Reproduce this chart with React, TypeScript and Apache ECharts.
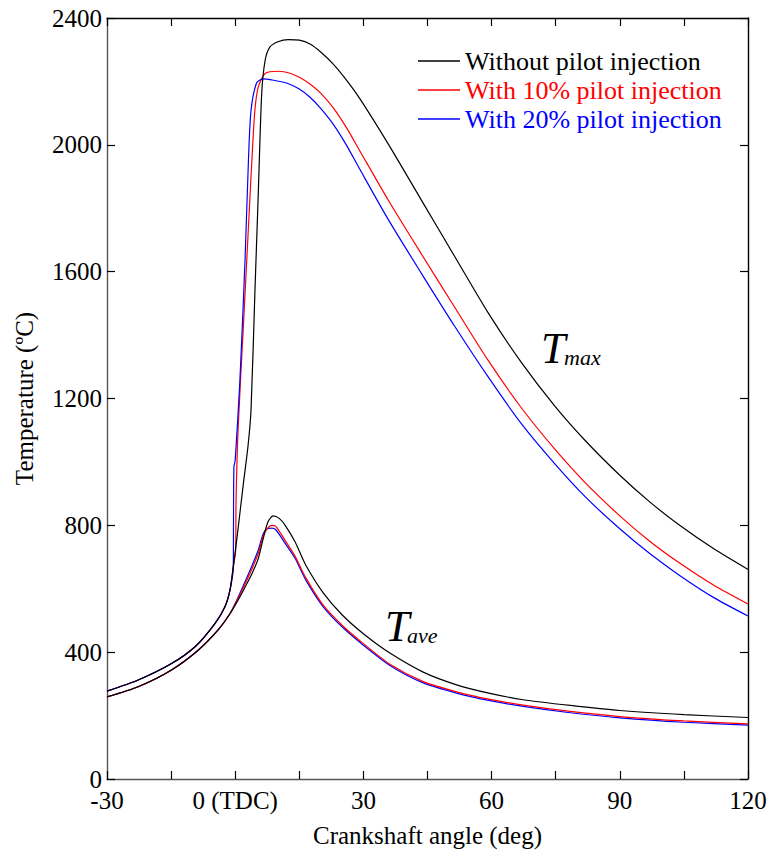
import React, { useEffect, useRef } from "react";
import * as echarts from "echarts";

// Crank angle ticks / labels
const xTickLabels: Record<number, string> = { [-30]: "-30", 0: "0 (TDC)", 30: "30", 60: "60", 90: "90", 120: "120" };

const seriesNames = ["Without pilot injection", "With 10% pilot injection", "With 20% pilot injection"];
const seriesColors = ["#000000", "#ff0000", "#0000ff"];

// T_max curves
const angleMaxWithout = [-30, -22.7, -14.9, -9.4, -4.7, -2.4, -1.2, -0.45, 0.5, 1.9, 3.0, 3.7, 4.6, 5.4, 6.2, 7.0, 8.1, 10, 12.4, 15, 17.5, 20, 23, 26, 29.2, 35.8, 43.6, 51.4, 59.2, 67, 74.8, 82, 90, 97, 104, 112, 120];
const tempMaxWithout = [277, 312, 364, 417, 491, 543, 597, 669, 770, 930, 1050, 1163, 1531, 1846, 2161, 2266, 2308, 2325, 2332, 2330, 2318, 2293, 2254, 2205, 2145, 2003, 1825, 1647, 1470, 1313, 1176, 1066, 958, 874, 800, 726, 661];

const angleMax10 = [-30, -22.7, -14.9, -9.4, -4.7, -2.4, -1.2, -0.45, 0.1, 0.2, 0.7, 1.9, 3.1, 3.9, 4.6, 5.4, 7.0, 10.1, 13, 15, 17.5, 20, 23, 26, 29.2, 35.8, 43.6, 51.4, 59.2, 67, 74.8, 82, 90, 97, 104, 112, 120];
const tempMax10 = [277, 312, 364, 417, 491, 543, 597, 669, 720, 880, 1110, 1425, 1741, 1951, 2108, 2182, 2225, 2232, 2225, 2213, 2192, 2163, 2116, 2055, 1980, 1826, 1655, 1487, 1320, 1170, 1040, 933, 830, 750, 681, 611, 552];

const angleMax20 = [-30, -22.7, -14.9, -9.4, -4.7, -2.4, -1.2, -0.45, -0.4, -0.3, 0, 1.1, 2.3, 3.1, 3.7, 5.0, 6.6, 8.5, 12, 15, 17.5, 20, 23, 26, 29.2, 35.8, 43.6, 51.4, 59.2, 67, 74.8, 82, 90, 97, 104, 112, 120];
const tempMax20 = [277, 312, 364, 417, 491, 543, 597, 669, 800, 984, 1005, 1257, 1636, 1951, 2108, 2195, 2208, 2205, 2195, 2176, 2150, 2115, 2064, 2000, 1922, 1765, 1594, 1427, 1268, 1120, 994, 889, 789, 711, 642, 572, 514];

// T_ave curves
const angleAveWithout = [-30, -22.7, -14.9, -8.6, -4.0, -1.2, 0.5, 2.3, 4.0, 5.4, 6.5, 7.7, 8.9, 10.3, 11.7, 14.0, 16.5, 20.6, 25, 30, 36.2, 44.0, 51.8, 59.6, 67.4, 78.4, 90, 105, 120];
const tempAveWithout = [259, 291, 344, 407, 470, 522, 560, 605, 650, 695, 755, 812, 830, 822, 800, 748, 675, 587, 518, 458, 397, 337, 297, 270, 250, 232, 216, 203, 194];

const angleAve10 = [-30, -22.7, -14.9, -8.6, -4.0, -1.2, 0.5, 2.3, 4.0, 5.4, 6.8, 8.5, 9.5, 11.7, 14.0, 16.5, 20.6, 25, 30, 36.2, 44.0, 51.8, 59.6, 67.4, 78.4, 90, 105, 120];
const tempAve10 = [259, 291, 344, 407, 470, 522, 565, 615, 665, 712, 775, 800, 797, 752, 703, 635, 548, 485, 427, 362, 307, 275, 251, 233, 213, 197, 183, 174];

const angleAve20 = [-30, -22.7, -14.9, -8.6, -4.0, -1.2, 0.5, 2.3, 4.0, 5.4, 6.6, 7.6, 8.5, 9.5, 11.7, 14.0, 16.5, 20.6, 25, 30, 36.2, 44.0, 51.8, 59.6, 67.4, 78.4, 90, 105, 120];
const tempAve20 = [259, 291, 344, 407, 470, 522, 568, 622, 675, 722, 775, 790, 791, 786, 743, 696, 628, 543, 480, 422, 358, 303, 271, 247, 229, 209, 193, 179, 170];

const zip = (a: number[], b: number[]) => a.map((x, i) => [x, b[i]]);

const FONT = "Liberation Serif";
const labelRich = { s: { fontFamily: FONT, fontSize: 25, color: "#000" } };

export default function App() {
  const ref = useRef<HTMLDivElement>(null);
  useEffect(() => {
    if (!ref.current) return;
    const chart = echarts.init(ref.current, undefined, { renderer: "svg" });
    const mkSeries = (name: string, color: string, data: number[][], z = 2) => ({
      type: "line",
      name,
      data,
      z,
      showSymbol: false,
      symbol: "none",
      smooth: 0.25,
      lineStyle: { color, width: 1.2 },
      itemStyle: { color },
      xAxisIndex: 0,
      yAxisIndex: 0,
    });
    const option: any = {
      animation: false,
      backgroundColor: "#fff",
      textStyle: { fontFamily: FONT },
      grid: { left: 107, right: 24, top: 18, bottom: 77, containLabel: false },
      legend: {
        orient: "vertical",
        left: 413,
        top: 43,
        icon: "rect",
        itemWidth: 42,
        itemHeight: 1.4,
        itemGap: 3,
        textStyle: { fontFamily: FONT, fontSize: 26 },
        data: seriesNames.map((n, i) => ({ name: n, textStyle: { color: seriesColors[i], fontFamily: FONT, fontSize: 26 } })),
      },
      xAxis: [
        {
          type: "value",
          min: -30,
          max: 120,
          interval: 15,
          position: "bottom",
          name: "Crankshaft angle (deg)",
          nameLocation: "middle",
          nameGap: 44,
          nameTextStyle: { fontFamily: FONT, fontSize: 25, color: "#000" },
          axisLine: { show: true, onZero: false, lineStyle: { color: "#555", width: 1.4 } },
          axisTick: { show: true, inside: true, length: 8, lineStyle: { color: "#000", width: 1.2 } },
          axisLabel: {
            margin: 9,
            fontFamily: FONT,
            fontSize: 25,
            color: "#000",
            rich: labelRich,
            formatter: (v: number) => (xTickLabels[v] !== undefined ? `{s|${xTickLabels[v]}}` : ""),
          },
          splitLine: { show: false },
        },
        {
          type: "value",
          min: -30,
          max: 120,
          interval: 15,
          position: "top",
          axisLine: { show: true, onZero: false, lineStyle: { color: "#000", width: 1.4 } },
          axisTick: { show: true, inside: true, length: 8, lineStyle: { color: "#000", width: 1.2 } },
          axisLabel: { show: false },
          splitLine: { show: false },
        },
      ],
      yAxis: [
        {
          type: "value",
          min: 0,
          max: 2400,
          interval: 400,
          position: "left",
          name: "Temperature (ºC)",
          nameLocation: "middle",
          nameGap: 70,
          nameTextStyle: { fontFamily: FONT, fontSize: 25, color: "#000" },
          axisLine: { show: true, onZero: false, lineStyle: { color: "#555", width: 1.4 } },
          axisTick: { show: true, inside: true, length: 8, lineStyle: { color: "#000", width: 1.2 } },
          axisLabel: {
            margin: 5,
            fontFamily: FONT,
            fontSize: 25,
            color: "#000",
            rich: labelRich,
            formatter: (v: number) => `{s|${v}}`,
          },
          splitLine: { show: false },
        },
        {
          type: "value",
          min: 0,
          max: 2400,
          interval: 400,
          position: "right",
          axisLine: { show: true, onZero: false, lineStyle: { color: "#000", width: 1.4 } },
          axisTick: { show: true, inside: true, length: 8, lineStyle: { color: "#000", width: 1.2 } },
          axisLabel: { show: false },
          splitLine: { show: false },
        },
      ],
      series: [
        mkSeries(seriesNames[0], seriesColors[0], zip(angleMaxWithout, tempMaxWithout), 3),
        mkSeries(seriesNames[1], seriesColors[1], zip(angleMax10, tempMax10)),
        mkSeries(seriesNames[2], seriesColors[2], zip(angleMax20, tempMax20)),
        mkSeries(seriesNames[2], seriesColors[2], zip(angleAve20, tempAve20)),
        mkSeries(seriesNames[1], seriesColors[1], zip(angleAve10, tempAve10)),
        mkSeries(seriesNames[0], seriesColors[0], zip(angleAveWithout, tempAveWithout), 3),
      ],
      graphic: [
        { type: "text", x: 541, y: 326, style: { text: "T", fontFamily: FONT, fontStyle: "italic", fontSize: 44, fill: "#000" } },
        { type: "text", x: 564, y: 346, style: { text: "max", fontFamily: FONT, fontStyle: "italic", fontSize: 22, fill: "#000" } },
        { type: "text", x: 385, y: 604, style: { text: "T", fontFamily: FONT, fontStyle: "italic", fontSize: 44, fill: "#000" } },
        { type: "text", x: 407, y: 624, style: { text: "ave", fontFamily: FONT, fontStyle: "italic", fontSize: 22, fill: "#000" } },
      ],
    };
    chart.setOption(option);
    return () => chart.dispose();
  }, []);
  return <div ref={ref} style={{ position: "fixed", left: 0, top: 0, width: 772, height: 856, background: "#fff" }} />;
}
